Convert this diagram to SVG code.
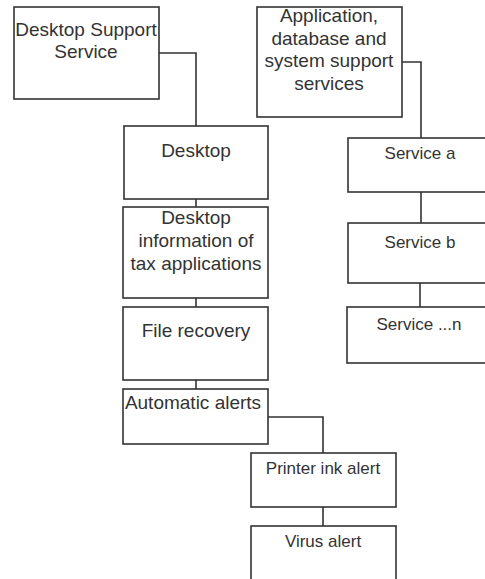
<svg xmlns="http://www.w3.org/2000/svg" width="485" height="579" viewBox="0 0 485 579">
<style>
.box{fill:#fff;stroke:#333;stroke-width:1.6}
.ln{fill:none;stroke:#333;stroke-width:1.6}
text{font-family:"Liberation Sans",Arial,sans-serif;fill:#333;text-anchor:middle}
.big{font-size:19px}
.sm{font-size:17px}
</style>
<rect width="485" height="579" fill="#fff"/>
<g id="connectors">
<polyline class="ln" points="159,53 196,53 196,126"/>
<line class="ln" x1="196" y1="199" x2="196" y2="207"/>
<line class="ln" x1="196" y1="298" x2="196" y2="307"/>
<line class="ln" x1="196" y1="380" x2="196" y2="389"/>
<polyline class="ln" points="268,417 323,417 323,453"/>
<line class="ln" x1="323" y1="507" x2="323" y2="526"/>
<polyline class="ln" points="402,62 421,62 421,138"/>
<line class="ln" x1="421" y1="192" x2="421" y2="223"/>
<line class="ln" x1="420" y1="283" x2="420" y2="307"/>
</g>
<g id="desktop-support-service">
<rect class="box" x="14" y="7" width="145" height="92"/>
<text class="big" x="86" y="36">Desktop Support</text>
<text class="big" x="86" y="58">Service</text>
</g>
<g id="desktop">
<rect class="box" x="124" y="126" width="144" height="73"/>
<text class="big" x="196" y="157">Desktop</text>
</g>
<g id="desktop-information">
<rect class="box" x="123" y="207" width="145" height="91"/>
<text class="big" x="196" y="224">Desktop</text>
<text class="big" x="196" y="247">information of</text>
<text class="big" x="196" y="270">tax applications</text>
</g>
<g id="file-recovery">
<rect class="box" x="123" y="307" width="145" height="73"/>
<text class="big" x="196" y="337">File recovery</text>
</g>
<g id="automatic-alerts">
<rect class="box" x="123" y="389" width="145" height="55"/>
<text class="big" x="193" y="409">Automatic alerts</text>
</g>
<g id="printer-ink-alert">
<rect class="box" x="251" y="453" width="145" height="54"/>
<text class="sm" x="323" y="474">Printer ink alert</text>
</g>
<g id="virus-alert">
<rect class="box" x="251" y="526" width="145" height="70"/>
<text class="sm" x="323" y="547">Virus alert</text>
</g>
<g id="application-services">
<rect class="box" x="257" y="7" width="145" height="110"/>
<text class="big" x="329" y="22">Application,</text>
<text class="big" x="329" y="45">database and</text>
<text class="big" x="329" y="67">system support</text>
<text class="big" x="329" y="90">services</text>
</g>
<g id="service-a">
<rect class="box" x="348" y="138" width="145" height="54"/>
<text class="sm" x="420" y="159">Service a</text>
</g>
<g id="service-b">
<rect class="box" x="348" y="223" width="145" height="60"/>
<text class="sm" x="420" y="248">Service b</text>
</g>
<g id="service-n">
<rect class="box" x="347" y="307" width="145" height="56"/>
<text class="sm" x="419" y="330">Service ...n</text>
</g>
</svg>
